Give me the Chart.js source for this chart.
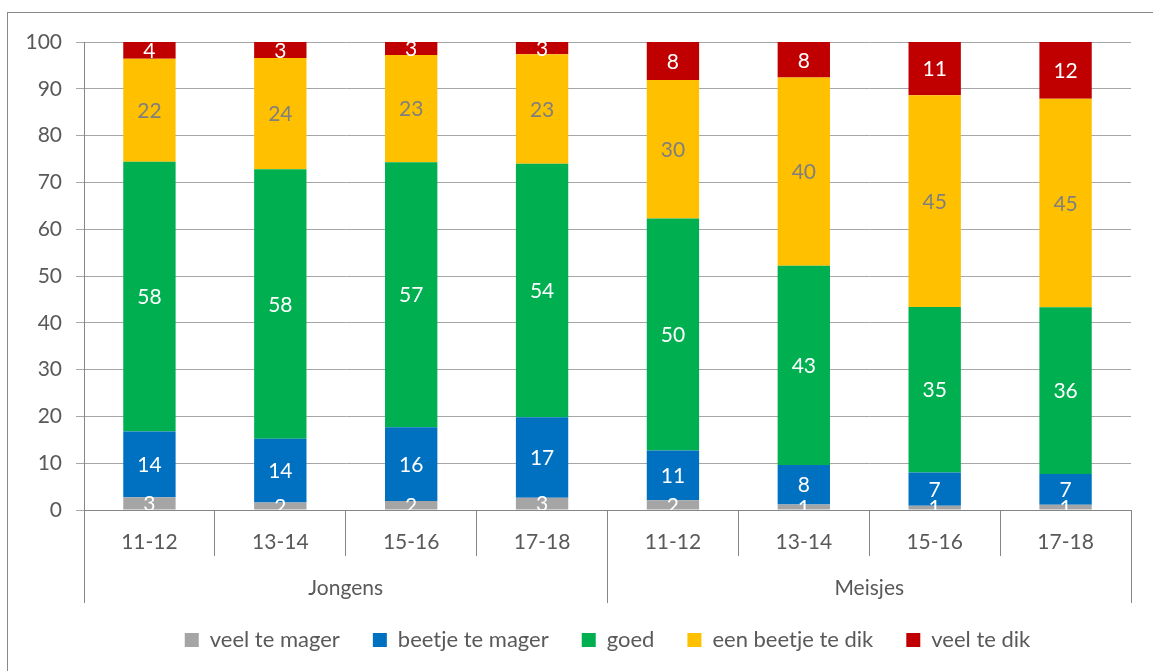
<!DOCTYPE html>
<html>
<head>
<meta charset="utf-8">
<script src="https://cdn.jsdelivr.net/npm/chart.js@4/dist/chart.umd.min.js"></script>
<style>
  html, body { margin: 0; padding: 0; background: #fff; overflow: hidden; }
  #wrap { position: relative; width: 1153px; height: 671px; }
  #grafiek { position: absolute; left: 0; top: 0; }
  #rand { position: absolute; left: 7px; top: 12px; width: 1200px; height: 700px;
          border: 1px solid #898989; pointer-events: none; }
</style>
</head>
<body>
<div id="wrap">
  <canvas id="grafiek" width="1153" height="671"></canvas>
  <div id="rand"></div>
</div>
<script>
// Leeftijdsgroepen per geslacht (percentages per staaf)
const categories = ['11-12', '13-14', '15-16', '17-18', '11-12', '13-14', '15-16', '17-18'];
const groups = ['Jongens', 'Meisjes'];

const veelTeMager   = [2.7, 1.6, 1.9, 2.6, 2.1, 1.2, 0.9, 1.1];
const beetjeTeMager = [14.1, 13.6, 15.8, 17.2, 10.6, 8.4, 7.1, 6.6];
const goed          = [57.6, 57.6, 56.6, 54.2, 49.6, 42.6, 35.4, 35.6];
const beetjeTeDik   = [22.0, 23.8, 22.9, 23.4, 29.6, 40.2, 45.2, 44.6];
const veelTeDik     = [3.6, 3.4, 2.8, 2.6, 8.1, 7.6, 11.4, 12.1];

const yTicks = [0, 10, 20, 30, 40, 50, 60, 70, 80, 90, 100];

const FONT = 'Lato';
const TEXT = '#595959';

// Waarden midden in elk segment, afgerond, geknipt op het plotgebied
const segmentLabels = {
    id: 'segmentLabels',
    afterDatasetsDraw(chart) {
        const { ctx, chartArea } = chart;
        ctx.save();
        ctx.beginPath();
        ctx.rect(chartArea.left, chartArea.top, chartArea.right - chartArea.left, chartArea.bottom - chartArea.top);
        ctx.clip();
        ctx.font = `21px ${FONT}`;
        ctx.textAlign = 'center';
        ctx.textBaseline = 'middle';
        chart.data.datasets.forEach((ds, i) => {
            const meta = chart.getDatasetMeta(i);
            meta.data.forEach((bar, j) => {
                const { x, y, base } = bar.getProps(['x', 'y', 'base'], true);
                ctx.fillStyle = ds.labelColor;
                ctx.fillText(String(Math.round(ds.data[j])), x, (y + base) / 2 + 1);
            });
        });
        ctx.restore();
    }
};

// Groepsnamen onder de tweede as (buiten de knipzone van de as zelf)
const groupLabels = {
    id: 'groupLabels',
    afterDraw(chart) {
        const scale = chart.scales.x2;
        const { ctx } = chart;
        ctx.save();
        ctx.font = `21px ${FONT}`;
        ctx.fillStyle = TEXT;
        ctx.textAlign = 'center';
        ctx.textBaseline = 'middle';
        groups.forEach((g, i) => {
            ctx.fillText(g, scale.getPixelForTick(i), scale.top + 32);
        });
        ctx.restore();
    }
};

function serie(label, data, color, labelColor) {
    return {
        label: label,
        data: data,
        backgroundColor: color,
        borderWidth: 0,
        labelColor: labelColor,
        barPercentage: 0.4,
        categoryPercentage: 1.0
    };
}

new Chart(document.getElementById('grafiek'), {
    type: 'bar',
    data: {
        labels: categories,
        datasets: [
            serie('veel te mager', veelTeMager, '#A5A5A5', '#FFFFFF'),
            serie('beetje te mager', beetjeTeMager, '#0070C0', '#FFFFFF'),
            serie('goed', goed, '#00B050', '#FFFFFF'),
            serie('een beetje te dik', beetjeTeDik, '#FFC000', '#7F7F7F'),
            serie('veel te dik', veelTeDik, '#C00000', '#FFFFFF')
        ]
    },
    plugins: [segmentLabels, groupLabels],
    options: {
        responsive: false,
        animation: false,
        layout: { padding: { left: 0, right: 22, top: 42, bottom: 10 } },
        plugins: {
            tooltip: { enabled: false },
            legend: {
                position: 'bottom',
                fullSize: false,
                labels: {
                    boxWidth: 14,
                    boxHeight: 14,
                    padding: 33,
                    color: TEXT,
                    font: { family: FONT, size: 22 }
                }
            }
        },
        scales: {
            x: {
                stacked: true,
                weight: 0,
                grid: { offset: true, drawOnChartArea: false, tickLength: 46, color: '#868686' },
                border: { display: true, color: '#868686' },
                ticks: { color: TEXT, font: { family: FONT, size: 21 }, padding: -26, maxRotation: 0 },
                afterFit(axis) { axis.height = 46; }
            },
            x2: {
                type: 'category',
                labels: groups,
                position: 'bottom',
                weight: 1,
                offset: true,
                grid: { offset: true, drawOnChartArea: false, tickLength: 47, color: '#868686' },
                border: { display: false },
                ticks: { display: false },
                afterFit(axis) { axis.height = 40; }
            },
            y: {
                stacked: true,
                min: 0,
                max: 100,
                afterBuildTicks(axis) { axis.ticks = yTicks.map(v => ({ value: v })); },
                grid: { color: '#A6A6A6', tickLength: 8 },
                border: { display: true, color: '#868686' },
                ticks: { color: TEXT, font: { family: FONT, size: 21 }, padding: 14 },
                afterFit(axis) { axis.width = 84; }
            }
        }
    }
});
</script>
</body>
</html>
